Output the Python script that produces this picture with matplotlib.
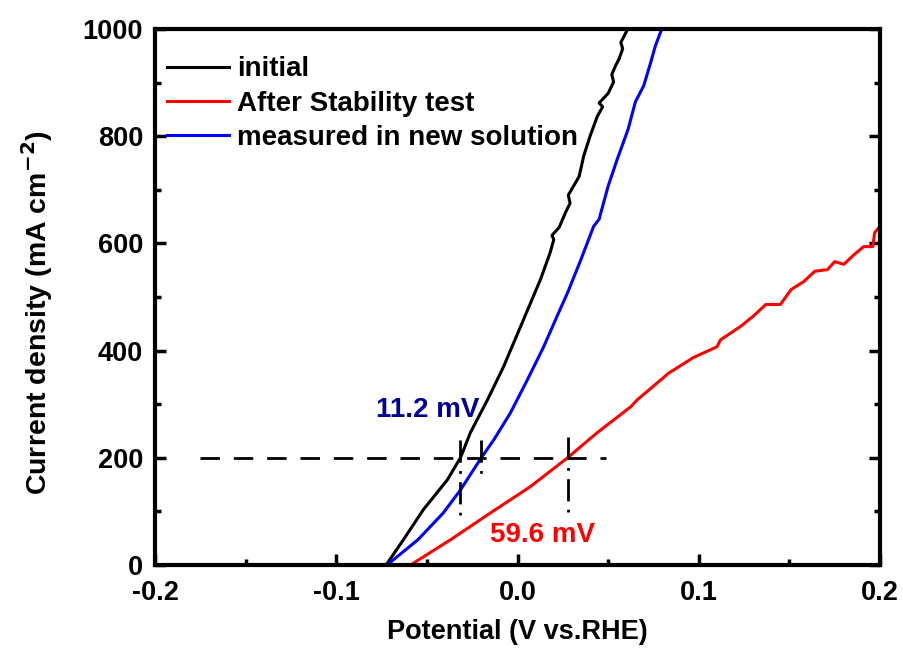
import matplotlib.pyplot as plt
from matplotlib.ticker import MultipleLocator

# LSV curves (potential in V vs RHE, current in mA cm^-2)
initial_x = [-0.0725, -0.063, -0.052, -0.0387, -0.0315, -0.026, -0.0166, -0.0077, 0.0017,
             0.0127, 0.018, 0.020, 0.019, 0.023, 0.0265, 0.029, 0.028, 0.034,
             0.0365, 0.040, 0.044, 0.047, 0.045, 0.050, 0.053, 0.052, 0.054, 0.056,
             0.058, 0.057, 0.0608]
initial_y = [0, 47, 103, 159, 200, 247, 308, 370, 445, 533, 583, 607, 615, 630,
             658, 675, 690, 725, 763, 800, 837, 855, 862, 880, 901, 915, 931, 944,
             963, 975, 1000]

stab_x = [-0.059, -0.037, -0.015, 0.007, 0.0276, 0.044, 0.0624, 0.066, 0.081, 0.083,
          0.097, 0.110, 0.112, 0.123, 0.130, 0.137, 0.145, 0.151, 0.158, 0.164, 0.171,
          0.175, 0.180, 0.186, 0.191, 0.196, 0.197, 0.200]
stab_y = [0, 47, 97, 146, 200, 247, 295, 308, 351, 357, 387, 407, 420, 445, 464, 486,
          486, 514, 529, 548, 551, 566, 561, 580, 594, 594, 620, 632]

new_x = [-0.072, -0.055, -0.041, -0.0315, -0.020, -0.013, -0.0039, 0.0055, 0.0144,
         0.0227, 0.0276, 0.035, 0.042, 0.045, 0.050, 0.055, 0.061, 0.065, 0.0696,
         0.0735, 0.076, 0.080]
new_y = [0, 47, 97, 140, 200, 234, 284, 346, 407, 471, 508, 570, 632, 645, 707, 757,
         813, 864, 894, 938, 968, 1004]

# guide lines at 200 mA cm^-2
ref_j = 200
hline_x = [-0.175, 0.049]
mark_x = [-0.0316, -0.0204, 0.028]
mark_top = [233, 233, 239]
mark_bottom = [90, 170, 90]

plt.rcParams['font.family'] = ['Liberation Sans', 'DejaVu Sans']
plt.rcParams['font.weight'] = 'bold'
plt.rcParams['mathtext.default'] = 'bf'

fig = plt.figure(figsize=(9.04, 6.53), dpi=100)
ax = fig.add_axes([0.1715, 0.1348, 0.802, 0.8208])

ax.plot(initial_x, initial_y, color='black', lw=2.2, label='initial')
ax.plot(stab_x, stab_y, color='#ff0000', lw=2.2, label='After Stability test')
ax.plot(new_x, new_y, color='#0000ff', lw=2.2, label='measured in new solution')

ax.plot(hline_x, [ref_j, ref_j], color='black', lw=2, ls=(0, (7, 5)))
for x, t, b in zip(mark_x, mark_top, mark_bottom):
    ax.plot([x, x], [t, b], color='black', lw=2, ls=(0, (8, 3, 1, 3)))

ax.text(-0.078, 290, '11.2 mV', color='#000099', fontsize=20, fontweight='bold',
        ha='left', va='center')
ax.text(-0.015, 56, '59.6 mV', color='#ff0000', fontsize=20, fontweight='bold',
        ha='left', va='center')

ax.set_xlim(-0.2, 0.2)
ax.set_ylim(0, 1000)
ax.xaxis.set_major_locator(MultipleLocator(0.1))
ax.xaxis.set_minor_locator(MultipleLocator(0.05))
ax.yaxis.set_major_locator(MultipleLocator(200))
ax.yaxis.set_minor_locator(MultipleLocator(100))
ax.xaxis.set_major_formatter(plt.FuncFormatter(lambda v, p: f'{v:.1f}'))
ax.tick_params(which='both', direction='in', width=2.5, right=True, top=False,
               labelsize=19.5)
ax.tick_params(axis='x', which='both', pad=10.5)
ax.tick_params(axis='y', which='both', pad=8.5)
ax.tick_params(which='major', length=8)
ax.tick_params(which='minor', length=4)
for s in ax.spines.values():
    s.set_linewidth(3)

ax.set_xlabel('Potential (V vs.RHE)', fontsize=19.5, fontweight='bold')
ax.set_ylabel('Current density (mA cm$^{-2}$)', fontsize=20.5, fontweight='bold')
ax.xaxis.set_label_coords(0.5, -0.1)
ax.yaxis.set_label_coords(-0.138, 0.47)

ax.legend(loc='upper left', frameon=False, fontsize=20, handlelength=2.2,
          handletextpad=0.3, labelspacing=0.29, borderaxespad=0.3,
          bbox_to_anchor=(-0.0097, 0.985))

fig.savefig('out.png', dpi=100)
